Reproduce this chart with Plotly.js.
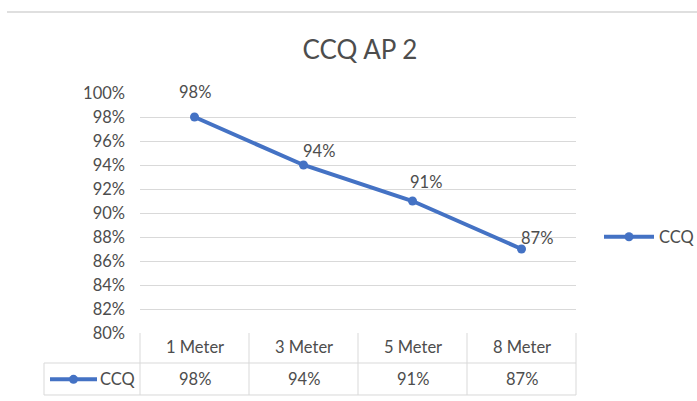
<!DOCTYPE html>
<html>
<head>
<meta charset="utf-8">
<script src="https://cdn.plot.ly/plotly-3.0.1.min.js"></script>
<style>html,body{margin:0;padding:0;background:#fff;}#chart{width:697px;height:401px;}</style>
</head>
<body>
<div id="chart"></div>
<script>
var categories = ['1 Meter', '3 Meter', '5 Meter', '8 Meter'];
var ccqValues = [0.98, 0.94, 0.91, 0.87];
var seriesName = 'CCQ';
var chartTitle = 'CCQ AP 2';

var FONT = 'Lato, "Open Sans", sans-serif';
var TXT = '#4d4d4d';
var GRID = '#d9d9d9';
var BLUE = '#4472c4';

// label offsets (styling)
var labelDx = [0, 15, 13, 15];
var labelDy = [25, 14, 19, 11];

function pct(v){ return Math.round(v*100) + '%'; }

var trace = {
  x: categories, y: ccqValues, name: seriesName,
  type: 'scatter', mode: 'lines+markers',
  line: {color: BLUE, width: 4},
  marker: {color: BLUE, size: 9},
  hoverinfo: 'skip'
};

var annotations = [];
for (var i = 0; i < categories.length; i++) {
  annotations.push({x: categories[i], y: ccqValues[i], xref: 'x', yref: 'y',
    text: pct(ccqValues[i]), showarrow: false, xshift: labelDx[i], yshift: labelDy[i],
    font: {family: FONT, size: 16.5, color: TXT}});
  annotations.push({x: categories[i], y: -0.06, xref: 'x', yref: 'paper',
    text: categories[i], showarrow: false, yanchor: 'middle',
    font: {family: FONT, size: 16.5, color: TXT}});
  annotations.push({x: categories[i], y: -0.193, xref: 'x', yref: 'paper',
    text: pct(ccqValues[i]), showarrow: false, yanchor: 'middle',
    font: {family: FONT, size: 16.5, color: TXT}});
}
annotations.push({x: (98-140)/436, y: -0.193, xref: 'paper', yref: 'paper',
  text: seriesName, showarrow: false, xanchor: 'left', yanchor: 'middle',
  font: {family: FONT, size: 16.5, color: TXT}});

var yRow = -0.125, yBot = -0.2583, xLeft = (44-140)/436;
var shapes = [
  {type:'line', xref:'paper', yref:'paper', x0:(7-140)/436, x1:(697-140)/436, y0:(333-12)/240, y1:(333-12)/240, line:{color:'#d4d4d4', width:1.5}},
  {type:'line', xref:'paper', yref:'paper', x0:xLeft, x1:1, y0:yRow, y1:yRow, line:{color:GRID, width:1}},
  {type:'line', xref:'paper', yref:'paper', x0:xLeft, x1:1, y0:yBot, y1:yBot, line:{color:GRID, width:1}},
  {type:'line', xref:'paper', yref:'paper', x0:xLeft, x1:xLeft, y0:yRow, y1:yBot, line:{color:GRID, width:1}},
  {type:'line', xref:'paper', yref:'paper', x0:(50-140)/436, x1:(97-140)/436, y0:-0.193, y1:-0.193, line:{color:BLUE, width:4}},
  {type:'circle', xref:'paper', yref:'paper', x0:(69-140)/436, x1:(78-140)/436, y0:-0.193-4.5/240, y1:-0.193+4.5/240, fillcolor:BLUE, line:{color:BLUE, width:0}}
];
for (var k = 0; k <= categories.length; k++) {
  var xx = k / categories.length;
  shapes.push({type:'line', xref:'paper', yref:'paper', x0:xx, x1:xx, y0:0, y1:yBot, line:{color:GRID, width:1}});
}

var layout = {
  width: 697, height: 401,
  margin: {l: 140, r: 121, t: 93, b: 68, autoexpand: false},
  paper_bgcolor: '#fff', plot_bgcolor: '#fff',
  title: {text: chartTitle, x: 360/697, xanchor: 'center', y: 1 - 50/401, yanchor: 'middle',
    font: {family: FONT, size: 26, color: TXT}},
  xaxis: {type: 'category', showticklabels: false, showgrid: false, zeroline: false,
    showline: false, ticks: '', range: [-0.5, 3.5], fixedrange: true},
  yaxis: {range: [0.80, 1.00], dtick: 0.02, tick0: 0.8, tickformat: '.0%',
    showgrid: true, gridcolor: GRID, gridwidth: 1, zeroline: false, showline: false,
    ticks: '', ticklabelstandoff: 14,
    tickfont: {family: FONT, size: 16.5, color: TXT}, fixedrange: true},
  showlegend: true,
  legend: {x: (599-140)/436, y: (333-237)/240, xanchor: 'left', yanchor: 'middle',
    itemwidth: 50,
    font: {family: FONT, size: 16.5, color: TXT}, bgcolor: 'rgba(0,0,0,0)'},
  shapes: shapes,
  annotations: annotations
};

Plotly.newPlot('chart', [trace], layout, {displayModeBar: false, staticPlot: true});
</script>
</body>
</html>
